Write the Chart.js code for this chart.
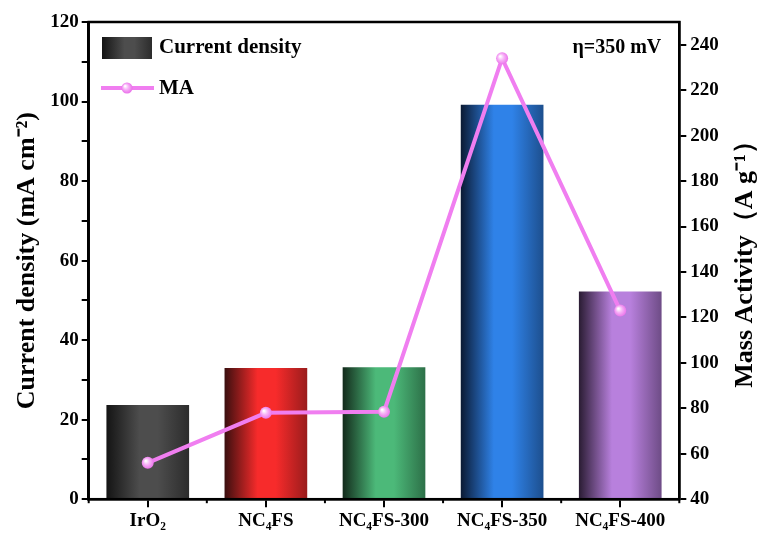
<!DOCTYPE html>
<html>
<head>
<meta charset="utf-8">
<script src="https://cdn.jsdelivr.net/npm/chart.js@4.4.1/dist/chart.umd.min.js"></script>
<style>
  html, body { margin: 0; padding: 0; background: #fff; }
  #wrap { width: 761px; height: 536px; }
</style>
</head>
<body>
<div id="wrap"><canvas id="maChart"></canvas></div>
<script>
// données
const samples = ['IrO₂', 'NC₄FS', 'NC₄FS-300', 'NC₄FS-350', 'NC₄FS-400'];
const currentDensity = [23.7, 33.0, 33.2, 99.2, 52.2];
const massActivity = [56, 78, 78.5, 234, 123];
const leftTicks = [0, 20, 40, 60, 80, 100, 120];
const rightTicks = [40, 60, 80, 100, 120, 140, 160, 180, 200, 220, 240];

// couleurs des barres : bord sombre / centre clair
const barDark = ['#141414', '#3a0f0f', '#132a1b', '#0b1a33', '#2a1c33'];
const barLight = ['#4d4d4d', '#f72b2b', '#4cb979', '#2f82e8', '#b880dd'];
const barMid = ['#2c2c2c', '#9a1c1c', '#2d7048', '#1d4f8e', '#6e4c86'];
const maColor = '#f07ef0';

const FONT = '"Liberation Serif", "Times New Roman", serif';
const BAR_PCT = 0.7;

function barGradient(ctx) {
    const chart = ctx.chart;
    const i = ctx.dataIndex;
    if (!chart.chartArea || ctx.type !== 'data') return barLight[i];
    const xs = chart.scales.x;
    const x = xs.getPixelForValue(i);
    const w = xs.width / samples.length * BAR_PCT;
    const g = chart.ctx.createLinearGradient(x - w / 2, 0, x + w / 2, 0);
    g.addColorStop(0, barDark[i]);
    g.addColorStop(0.4, barLight[i]);
    g.addColorStop(0.62, barLight[i]);
    g.addColorStop(1, barMid[i]);
    return g;
}

function pointFill(ctx) {
    const chart = ctx.chart;
    const el = ctx.element;
    if (!chart.chartArea || !el || el.x === undefined) return maColor;
    const g = chart.ctx.createRadialGradient(el.x - 2, el.y - 2, 0.5, el.x, el.y, 7);
    g.addColorStop(0, '#ffffff');
    g.addColorStop(0.4, '#f7b4f7');
    g.addColorStop(1, '#e865e8');
    return g;
}

// cadre, petites graduations, légende et annotations
const decorations = {
    id: 'decorations',
    afterDraw(chart) {
        const c = chart.ctx;
        const a = chart.chartArea;
        c.save();
        c.strokeStyle = '#000';
        c.lineWidth = 2.5;
        c.strokeRect(a.left, a.top, a.right - a.left, a.bottom - a.top);

        // petites graduations entre catégories
        const xs = chart.scales.x;
        c.lineWidth = 2;
        for (let i = 0; i <= samples.length; i++) {
            const px = xs.getPixelForValue(i - 0.5);
            c.beginPath();
            c.moveTo(px, a.bottom);
            c.lineTo(px, a.bottom + 4);
            c.stroke();
        }

        // légende
        const bx = 102, by = 37, bw = 50, bh = 22;
        const g = c.createLinearGradient(bx, 0, bx + bw, 0);
        g.addColorStop(0, barDark[0]);
        g.addColorStop(0.45, barLight[0]);
        g.addColorStop(0.65, barLight[0]);
        g.addColorStop(1, barMid[0]);
        c.fillStyle = g;
        c.fillRect(bx, by, bw, bh);

        c.fillStyle = '#000';
        c.font = 'bold 21px ' + FONT;
        c.textBaseline = 'middle';
        c.textAlign = 'left';
        c.fillText('Current density', 159, 48);
        c.fillText('MA', 159, 89);

        c.strokeStyle = maColor;
        c.lineWidth = 4;
        c.beginPath();
        c.moveTo(101, 88);
        c.lineTo(154, 88);
        c.stroke();
        const rg = c.createRadialGradient(125, 86, 0.5, 127, 88, 6);
        rg.addColorStop(0, '#ffffff');
        rg.addColorStop(0.4, '#f7b4f7');
        rg.addColorStop(1, '#e865e8');
        c.fillStyle = rg;
        c.beginPath();
        c.arc(127, 88, 5.5, 0, Math.PI * 2);
        c.fill();

        c.fillStyle = '#000';
        c.font = 'bold 20px ' + FONT;
        c.textAlign = 'right';
        c.fillText('η=350 mV', a.right - 18, 48);

        // titre de l'axe droit, lu de bas en haut
        c.translate(745, 258);
        c.rotate(-Math.PI / 2);
        c.textAlign = 'center';
        c.font = 'bold 26px ' + FONT;
        c.fillText('Mass Activity（A g⁻¹）', 0, 0);
        c.restore();
    }
};

const tickFont = { family: FONT, size: 19, weight: 'bold' };

new Chart(document.getElementById('maChart').getContext('2d'), {
    data: {
        labels: samples,
        datasets: [{
            type: 'line',
            label: 'MA',
            data: massActivity,
            yAxisID: 'y1',
            borderColor: maColor,
            borderWidth: 4,
            pointRadius: 6,
            pointBorderWidth: 0,
            pointBackgroundColor: pointFill,
            tension: 0,
            order: 0
        }, {
            type: 'bar',
            label: 'Current density',
            data: currentDensity,
            yAxisID: 'y',
            backgroundColor: barGradient,
            barPercentage: BAR_PCT,
            categoryPercentage: 1,
            order: 1
        }]
    },
    options: {
        responsive: true,
        maintainAspectRatio: false,
        animation: false,
        layout: { padding: { top: 22, right: 3, bottom: 2, left: 12 } },
        plugins: {
            legend: { display: false },
            tooltip: { enabled: false }
        },
        scales: {
            x: {
                offset: true,
                grid: { drawOnChartArea: false, offset: false, color: '#000', lineWidth: 2, tickLength: 8 },
                border: { color: '#000', width: 2.5 },
                ticks: { color: '#000', font: tickFont, maxRotation: 0, padding: 2 }
            },
            y: {
                position: 'left',
                min: 0,
                max: 120,
                afterBuildTicks: s => {
                    s.ticks = [];
                    for (let v = 0; v <= 120; v += 10) s.ticks.push({ value: v });
                },
                grid: { drawOnChartArea: false, color: '#000', lineWidth: 2, tickLength: 7 },
                border: { color: '#000', width: 2.5 },
                ticks: {
                    color: '#000', font: tickFont, padding: 3,
                    callback: v => leftTicks.includes(v) ? v : ''
                },
                title: {
                    display: true,
                    text: 'Current density (mA cm⁻²)',
                    color: '#000',
                    font: { family: FONT, size: 26, weight: 'bold' },
                    padding: { top: 0, bottom: 4 }
                }
            },
            y1: {
                position: 'right',
                min: 40,
                max: 250,
                afterBuildTicks: s => {
                    s.ticks = [];
                    for (let v = 40; v <= 250; v += 10) s.ticks.push({ value: v });
                },
                grid: { drawOnChartArea: false, color: '#000', lineWidth: 2, tickLength: 7 },
                border: { color: '#000', width: 2.5 },
                ticks: {
                    color: '#000', font: tickFont, padding: 4,
                    callback: v => rightTicks.includes(v) ? v : ''
                },
                title: {
                    display: true,
                    text: 'Mass Activity（A g⁻¹）',
                    color: 'rgba(0,0,0,0)',
                    font: { family: FONT, size: 26, weight: 'bold' },
                    padding: { top: 4, bottom: 0 }
                }
            }
        }
    },
    plugins: [decorations]
});
</script>
</body>
</html>
